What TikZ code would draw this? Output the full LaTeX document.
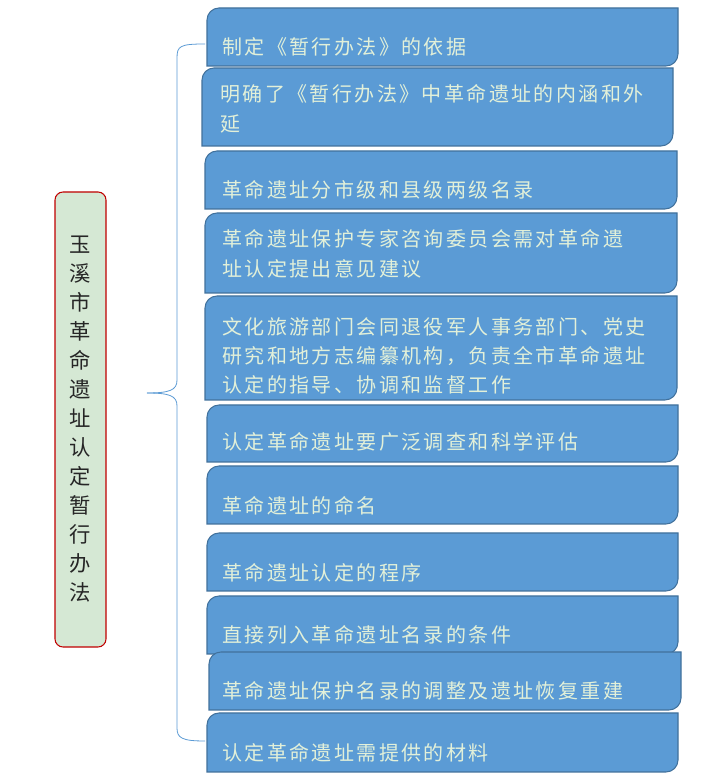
\documentclass[tikz,border=0pt]{standalone}
\usepackage{fontspec}
\newfontfamily\cjk[LetterSpace=12]{Noto Sans CJK SC}
\definecolor{bxfill}{HTML}{5B9BD5}
\definecolor{bxline}{HTML}{41719C}
\definecolor{txtc}{HTML}{E2F0D9}
\definecolor{lfill}{HTML}{D5E8D4}
\definecolor{lline}{HTML}{C00000}
\definecolor{brc}{HTML}{5B9BD5}
\tikzset{
 bxs/.style={fill=bxfill,draw=bxline,line width=0.8pt},
 tx/.style={anchor=west,inner sep=0pt,text=txtc,font=\cjk\fontsize{15}{22}\selectfont,align=left},
 hold/.style={inner sep=0pt,minimum width=0pt}
}
\newcommand\mybox[5]{%
 \coordinate (#1sw) at (#2,782-#5);
 \coordinate (#1ne) at (#4,782-#3);
 \draw[bxs] (#1sw) -- ($(#2,782-#3)+(0,-9pt)$) arc[start angle=180,end angle=90,radius=9pt] -- (#1ne) -- ($(#4,782-#5)+(0,9pt)$) arc[start angle=0,end angle=-90,radius=9pt] -- cycle;}
\usetikzlibrary{calc}
\begin{document}
\begin{tikzpicture}[x=0.75pt,y=0.75pt]
\useasboundingbox[fill=white] (0,0) rectangle (727,782);
\mybox{b1}{207}{8}{678}{66}
\mybox{b2}{202}{68}{673}{146}
\mybox{b3}{205}{151}{677}{209}
\mybox{b4}{205}{213}{677}{293}
\mybox{b5}{205}{296}{677}{400}
\mybox{b6}{207}{405}{678}{462}
\mybox{b7}{207}{466}{678}{524}
\mybox{b8}{207}{533}{678}{591}
\mybox{b9}{207}{596}{678}{654}
\mybox{b10}{209}{652}{681}{710}
\mybox{b11}{207}{713}{678}{772}
\node[tx] (t1) at (222,782-47) {制定《暂行办法》的依据};
\node[tx] (t2) at (220,782-109) {明确了《暂行办法》中革命遗址的内涵和外\\延};
\node[tx] (t3) at (222,782-190) {革命遗址分市级和县级两级名录};
\node[tx] (t4) at (222,782-254) {革命遗址保护专家咨询委员会需对革命遗\\址认定提出意见建议};
\node[tx] (t5) at (222,782-356) {文化旅游部门会同退役军人事务部门、党史\\研究和地方志编纂机构，负责全市革命遗址\\认定的指导、协调和监督工作};
\node[tx] (t6) at (222,782-442) {认定革命遗址要广泛调查和科学评估};
\node[tx] (t7) at (222,782-506) {革命遗址的命名};
\node[tx] (t8) at (222,782-573) {革命遗址认定的程序};
\node[tx] (t9) at (222,782-635) {直接列入革命遗址名录的条件};
\node[tx] (t10) at (222,782-691) {革命遗址保护名录的调整及遗址恢复重建};
\node[tx] (t11) at (222,782-753) {认定革命遗址需提供的材料};
\node[draw=lline,fill=lfill,rounded corners=6pt,line width=0.8pt,minimum width=51*0.75pt,minimum height=455*0.75pt,inner sep=0pt] (L) at (80.5,782-419.5) {};
\node[font=\cjk\fontsize{16}{21.75}\selectfont,align=center,text=black!85] (Lt) at (L.center) {玉\\溪\\市\\革\\命\\遗\\址\\认\\定\\暂\\行\\办\\法};
\coordinate (m) at (147,782-393);
\coordinate (top) at (205,782-44);
\coordinate (bot) at (205,782-741);
\draw[brc,line width=0.6pt] (top) .. controls (180,782-44) and (177,782-46) .. (177,782-58) -- (177,782-380) .. controls (177,782-390) and (170,782-393) .. (m);
\draw[brc,line width=0.6pt] (m) .. controls (170,782-393) and (177,782-396) .. (177,782-406) -- (177,782-728) .. controls (177,782-738) and (182,782-741) .. (bot);
\end{tikzpicture}
\end{document}
